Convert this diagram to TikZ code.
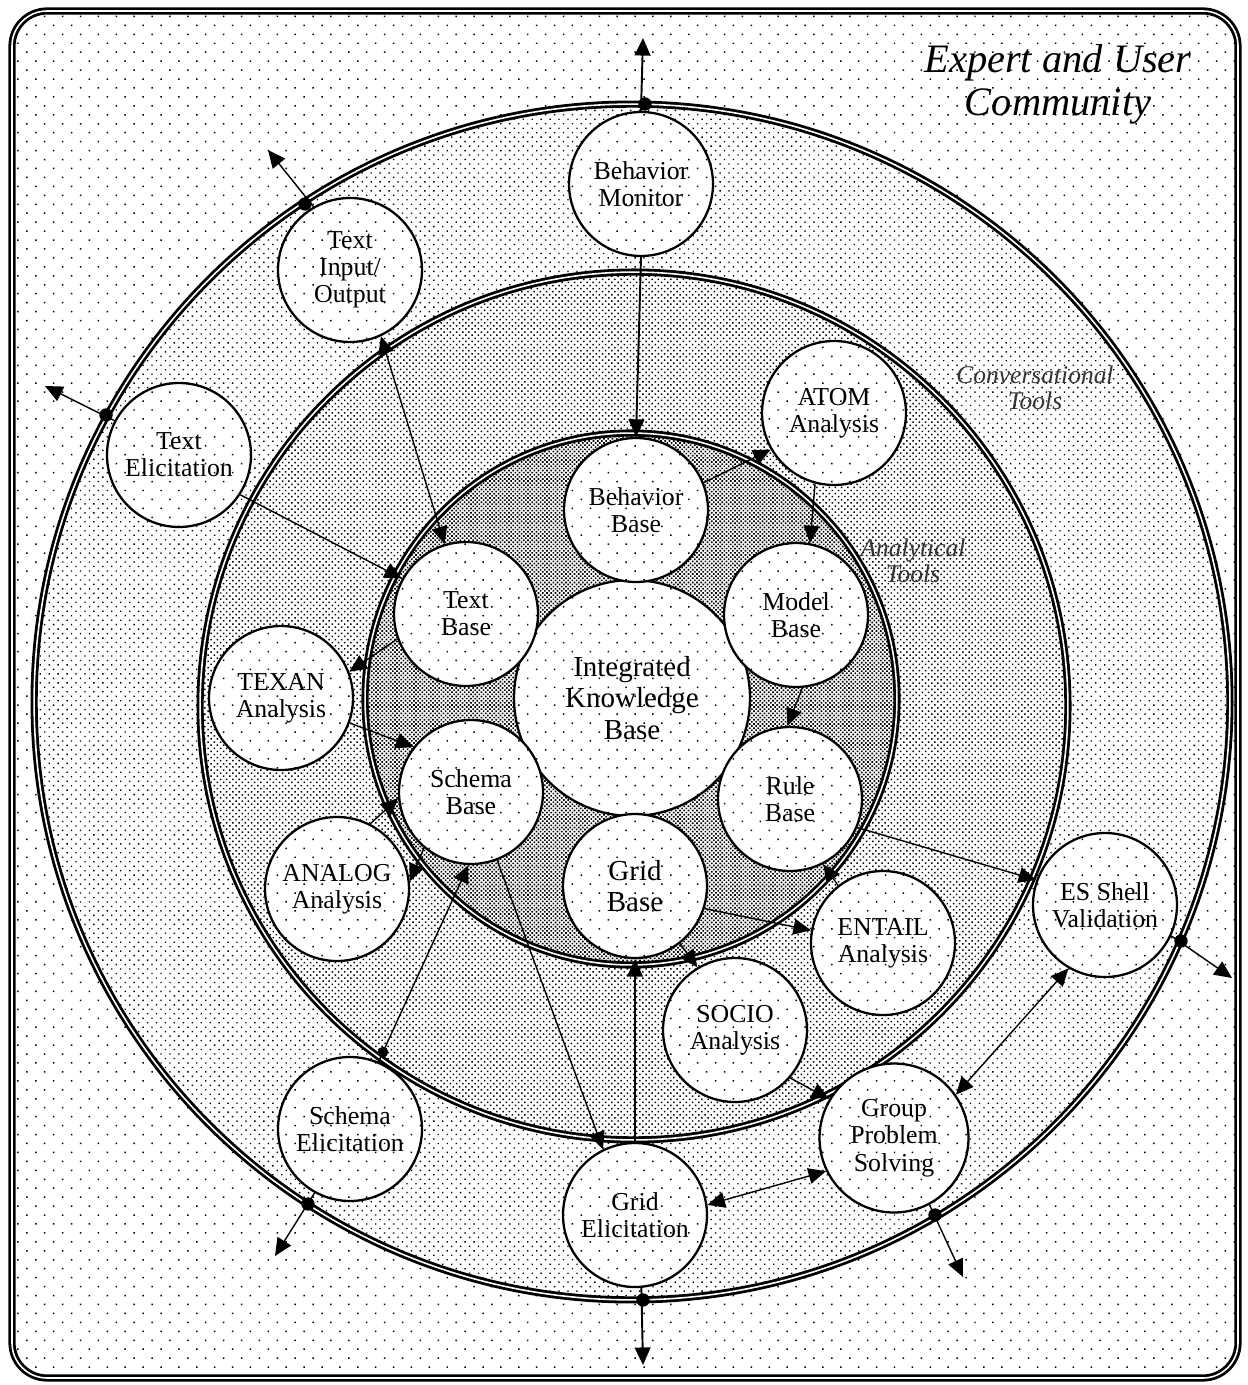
\documentclass[tikz,border=0pt]{standalone}
\usepackage{fontspec}
\setmainfont{Liberation Serif}
\usetikzlibrary{arrows.meta,patterns.meta}
\begin{document}
\begin{tikzpicture}[x=0.02cm,y=-0.02cm,
  bgpat/.style={pattern={Dots[distance=7.2pt,radius=0.6pt,angle=45]}},
  ronepat/.style={pattern={Dots[distance=3.6pt,radius=0.55pt,angle=45]}},
  rtwopat/.style={pattern={Dots[distance=2.5pt,radius=0.6pt,angle=45]}},
  inpat/.style={pattern={Dots[distance=1.7pt,radius=0.66pt,angle=45]}},
  ringline/.style={draw, line width=1.6pt, double=white, double distance=0.9pt},
  tool/.style={circle, draw, line width=1.3pt, inner sep=0pt, minimum size=2.88cm,
    align=center, font=\fontsize{14.7}{15.5}\selectfont, preaction={fill=white}, bgpat},
  conn/.style={line width=0.8pt},
  arr/.style={conn, -{Triangle[length=10pt,width=9pt]}},
  darr/.style={conn, {Triangle[length=10pt,width=9pt]}-{Triangle[length=10pt,width=9pt]}},
  blob/.style={fill=black},
]
\useasboundingbox (0,0) rectangle (1247,1385);
% regions
\path[fill=white, rounded corners=20pt] (12,11) rectangle (1238,1378);
\path[bgpat, rounded corners=20pt] (12,11) rectangle (1238,1378);
\fill[white] (632,702) circle[radius=11.96cm];
\path[ronepat] (632,702) circle[radius=11.96cm];
\fill[white] (634,706) circle[radius=8.68cm];
\path[rtwopat] (634,706) circle[radius=8.68cm];
\fill[white] (631,699) circle[radius=5.32cm];
\path[inpat] (631,699) circle[radius=5.32cm];
\draw[ringline, rounded corners=20pt] (12,11) rectangle (1238,1378);
\draw[ringline] (632,702) circle[radius=11.96cm];
\draw[ringline] (634,706) circle[radius=8.68cm];
\draw[ringline] (631,699) circle[radius=5.32cm];

% labels
\node[font=\itshape\fontsize{23}{24.5}\selectfont, align=center] (title) at (1058,84) {Expert and User\\Community};
\node[font=\itshape\fontsize{14.5}{14.5}\selectfont, align=center, text=black!80] (convlbl) at (1035,388) {Conversational\\Tools};
\node[font=\itshape\fontsize{14.5}{14.5}\selectfont, align=center, text=black!80] (analbl) at (913,561) {Analytical\\Tools};

% nodes
\node[tool] (ikb) at (632,698) [minimum size=4.72cm, font=\fontsize{16.5}{18}\selectfont] {Integrated\\Knowledge\\Base};
\node[tool] (bm) at (641,184) {Behavior\\Monitor};
\node[tool] (tio) at (350,270) {Text\\Input/\\Output};
\node[tool] (te) at (179,455) {Text\\Elicitation};
\node[tool] (atom) at (834,413) {ATOM\\Analysis};
\node[tool] (bb) at (636,510) {Behavior\\Base};
\node[tool] (tb) at (466,614) {Text\\Base};
\node[tool] (mb) at (796,615) {Model\\Base};
\node[tool] (texan) at (281,698) {TEXAN\\Analysis};
\node[tool] (sb) at (471,792) {Schema\\Base};
\node[tool] (rb) at (790,799) {Rule\\Base};
\node[tool] (analog) at (337,889) {ANALOG\\Analysis};
\node[tool, font=\fontsize{16.5}{18}\selectfont] (gb) at (635,886) {Grid\\Base};
\node[tool] (entail) at (883,943) {ENTAIL\\Analysis};
\node[tool] (es) at (1105,905) {ES Shell\\Validation};
\node[tool] (socio) at (735,1030) {SOCIO\\Analysis};
\node[tool] (se) at (350,1129) {Schema\\Elicitation};
\node[tool, minimum size=2.98cm] (gps) at (894,1138) {Group\\Problem\\Solving};
\node[tool] (ge) at (635,1215) {Grid\\Elicitation};

% free ends
\coordinate (bmout) at (643,38);
\coordinate (tioout) at (268,150);
\coordinate (teout) at (45,386);
\coordinate (esout) at (1232,978);
\coordinate (gpsout) at (963,1277);
\coordinate (geout) at (643,1365);
\coordinate (seout) at (275,1256);

% connectors
\draw[arr, line width=1.1pt] (bm.north) -- (bmout);
\draw[arr, line width=1.1pt] (bm.south) -- (bb.north);
\draw[arr] (tio.120) -- (tioout);
\draw[darr] (tio.-65) -- (tb.107);
\draw[arr] (te.152) -- (teout);
\draw[arr] (te.-33) -- (tb.151);
\draw[arr] (bb.22) -- (atom.210);
\draw[arr] (atom.-105) -- (mb.79);
\draw[arr] (mb.-85) -- (rb.92);
\draw[arr] (rb.-23) -- (es.160);
\draw[arr] (entail.128) -- (rb.-63);
\draw[arr] (gb.-18) -- (entail.170);
\draw[arr] (gb.-52) -- (socio.121);
\draw[arr] (socio.-41) -- (gps.149);
\draw[darr] (ge.8) -- (gps.206);
\draw[darr] (es.-120) -- (gps.35);
\draw[arr] (es.-25) -- (esout);
\draw[arr] (gps.-62) -- (gpsout);
\draw[arr, line width=1.1pt] (ge.-85) -- (geout);
\draw[arr, line width=1.1pt] (ge.north) -- (gb.south);
\draw[arr] (sb.-69) -- (ge.116);
\draw[arr] (se.67) -- (sb.-92);
\draw[arr] (se.-119) -- (seout);
\draw[arr] (analog.63) -- (sb.185);
\draw[arr] (sb.-130) -- (analog.6);
\draw[arr] (tb.200) -- (texan.21);
\draw[arr] (texan.-20) -- (sb.142);

% junction blobs on the rings
\fill[blob] (645,104) circle (3.8pt);
\fill[blob] (305,204) circle (3.8pt);
\fill[blob] (106,415) circle (3.8pt);
\fill[blob] (1181,941) circle (3.8pt);
\fill[blob] (935,1215) circle (3.8pt);
\fill[blob] (643,1300) circle (3.8pt);
\fill[blob] (308,1204) circle (3.8pt);
\fill[blob] (383,1052) circle (3pt);
\end{tikzpicture}
\end{document}
